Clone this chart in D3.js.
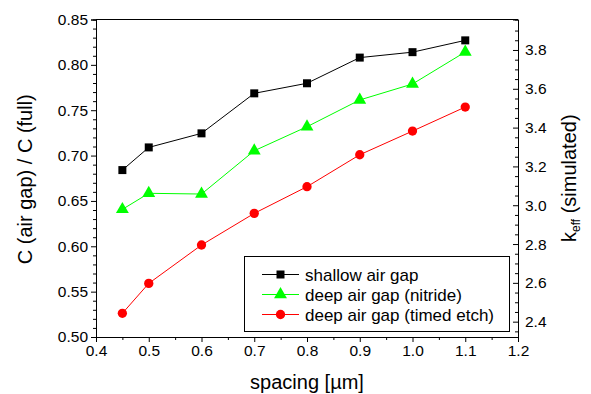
<!DOCTYPE html>
<html>
<head>
<meta charset="utf-8">
<script src="https://cdn.jsdelivr.net/npm/d3@7"></script>
<style>
  body { margin: 0; background: #fff; }
  svg { font-family: "Liberation Sans", Arial, sans-serif; }
</style>
</head>
<body>
<script>
// data
const spacing = [0.45, 0.5, 0.6, 0.7, 0.8, 0.9, 1.0, 1.1];
const shallow = [0.684, 0.709, 0.7245, 0.7686, 0.7797, 0.808, 0.814, 0.827];
const nitride = [0.6407, 0.6584, 0.6576, 0.7053, 0.7318, 0.7613, 0.7789, 0.8142];
const timed = [0.5261, 0.5591, 0.6014, 0.6363, 0.6657, 0.7009, 0.727, 0.7535];
const seriesNames = ["shallow air gap", "deep air gap (nitride)", "deep air gap (timed etch)"];
const xTicks = [0.4, 0.5, 0.6, 0.7, 0.8, 0.9, 1.0, 1.1, 1.2];
const yTicks = [0.50, 0.55, 0.60, 0.65, 0.70, 0.75, 0.80, 0.85];
const kTicks = [2.4, 2.6, 2.8, 3.0, 3.2, 3.4, 3.6, 3.8];

const width = 591, height = 394;
const m = { top: 19.5, right: 73, bottom: 57, left: 96 };

const svg = d3.select("body").append("svg")
  .attr("width", width).attr("height", height);

const x = d3.scaleLinear().domain([0.4, 1.2]).range([m.left, width - m.right]);
const y = d3.scaleLinear().domain([0.5, 0.85]).range([height - m.bottom, m.top]);
const yk = d3.scaleLinear().domain([2.321, 3.957]).range([height - m.bottom, m.top]);

// axes
svg.append("g").attr("transform", `translate(0,${height - m.bottom})`)
  .call(d3.axisBottom(x).tickValues(xTicks).tickFormat(d3.format(".1f")).tickSize(5).tickPadding(3));
svg.append("g").attr("transform", `translate(0,${height - m.bottom})`)
  .call(d3.axisBottom(x).tickValues(d3.range(0.45, 1.2, 0.1)).tickFormat("").tickSize(3));

svg.append("g").attr("transform", `translate(${m.left},0)`)
  .call(d3.axisLeft(y).tickValues(yTicks).tickFormat(d3.format(".2f")).tickSize(5).tickPadding(3));
svg.append("g").attr("transform", `translate(${m.left},0)`)
  .call(d3.axisLeft(y).tickValues(d3.range(0.51, 0.85, 0.01).filter(v => Math.abs(v * 20 - Math.round(v * 20)) > 0.01)).tickFormat("").tickSize(3));

const rAxis = svg.append("g").attr("transform", `translate(${width - m.right},0)`)
  .call(d3.axisRight(yk).tickValues(kTicks).tickFormat(d3.format(".1f")).tickSize(-5).tickPadding(9));
svg.append("g").attr("transform", `translate(${width - m.right},0)`)
  .call(d3.axisRight(yk).tickValues(d3.range(2.35, 3.95, 0.05).filter(v => Math.abs(v * 5 - Math.round(v * 5)) > 0.01)).tickFormat("").tickSize(-3));

// top frame line
svg.append("line")
  .attr("x1", m.left).attr("x2", width - m.right)
  .attr("y1", m.top).attr("y2", m.top)
  .attr("stroke", "#000");

svg.selectAll(".domain").attr("stroke", "#000");
svg.selectAll(".tick line").attr("stroke", "#000");
svg.selectAll(".tick text").attr("font-size", 15.5).attr("fill", "#000");
svg.selectAll("g").attr("font-family", null);
rAxis.selectAll(".tick text").attr("x", 7);

// axis titles
svg.append("text")
  .attr("x", x(0.8)).attr("y", 389)
  .attr("text-anchor", "middle").attr("font-size", 20)
  .text("spacing [µm]");

svg.append("text")
  .attr("transform", `translate(32,${y(0.675) + 1}) rotate(-90)`)
  .attr("text-anchor", "middle").attr("font-size", 20)
  .text("C (air gap) / C (full)");

const kt = svg.append("text")
  .attr("transform", `translate(576,${y(0.675)}) rotate(-90)`)
  .attr("text-anchor", "middle").attr("font-size", 20);
kt.append("tspan").text("k");
kt.append("tspan").attr("font-size", 12).attr("dy", 4).text("eff");
kt.append("tspan").attr("dy", -4).text(" (simulated)");

// series
const series = [
  { name: seriesNames[0], values: shallow, color: "#000000", symbol: d3.symbolSquare, size: 64 },
  { name: seriesNames[1], values: nitride, color: "#00ff00", symbol: d3.symbolTriangle, size: 72 },
  { name: seriesNames[2], values: timed, color: "#ff0000", symbol: d3.symbolCircle, size: 68 }
];

const line = d3.line().x((d, i) => x(spacing[i])).y(d => y(d));

series.forEach(s => {
  svg.append("path")
    .attr("d", line(s.values))
    .attr("fill", "none")
    .attr("stroke", s.color)
    .attr("stroke-width", 1);
  svg.selectAll(null).data(s.values).enter().append("path")
    .attr("transform", (d, i) => `translate(${x(spacing[i])},${y(d)})`)
    .attr("d", d3.symbol().type(s.symbol).size(s.size))
    .attr("fill", s.color);
});

// legend
const lg = svg.append("g");
lg.append("rect")
  .attr("x", 244.5).attr("y", 256.5).attr("width", 265).attr("height", 75)
  .attr("fill", "#fff").attr("stroke", "#000");
series.forEach((s, i) => {
  const ly = 274.5 + i * 20;
  lg.append("line").attr("x1", 262).attr("x2", 299).attr("y1", ly).attr("y2", ly)
    .attr("stroke", s.color);
  lg.append("path").attr("transform", `translate(280.5,${ly})`)
    .attr("d", d3.symbol().type(s.symbol).size(s.size)).attr("fill", s.color);
  lg.append("text").attr("x", 305).attr("y", ly + 6)
    .attr("font-size", 17).text(s.name);
});
</script>
</body>
</html>
